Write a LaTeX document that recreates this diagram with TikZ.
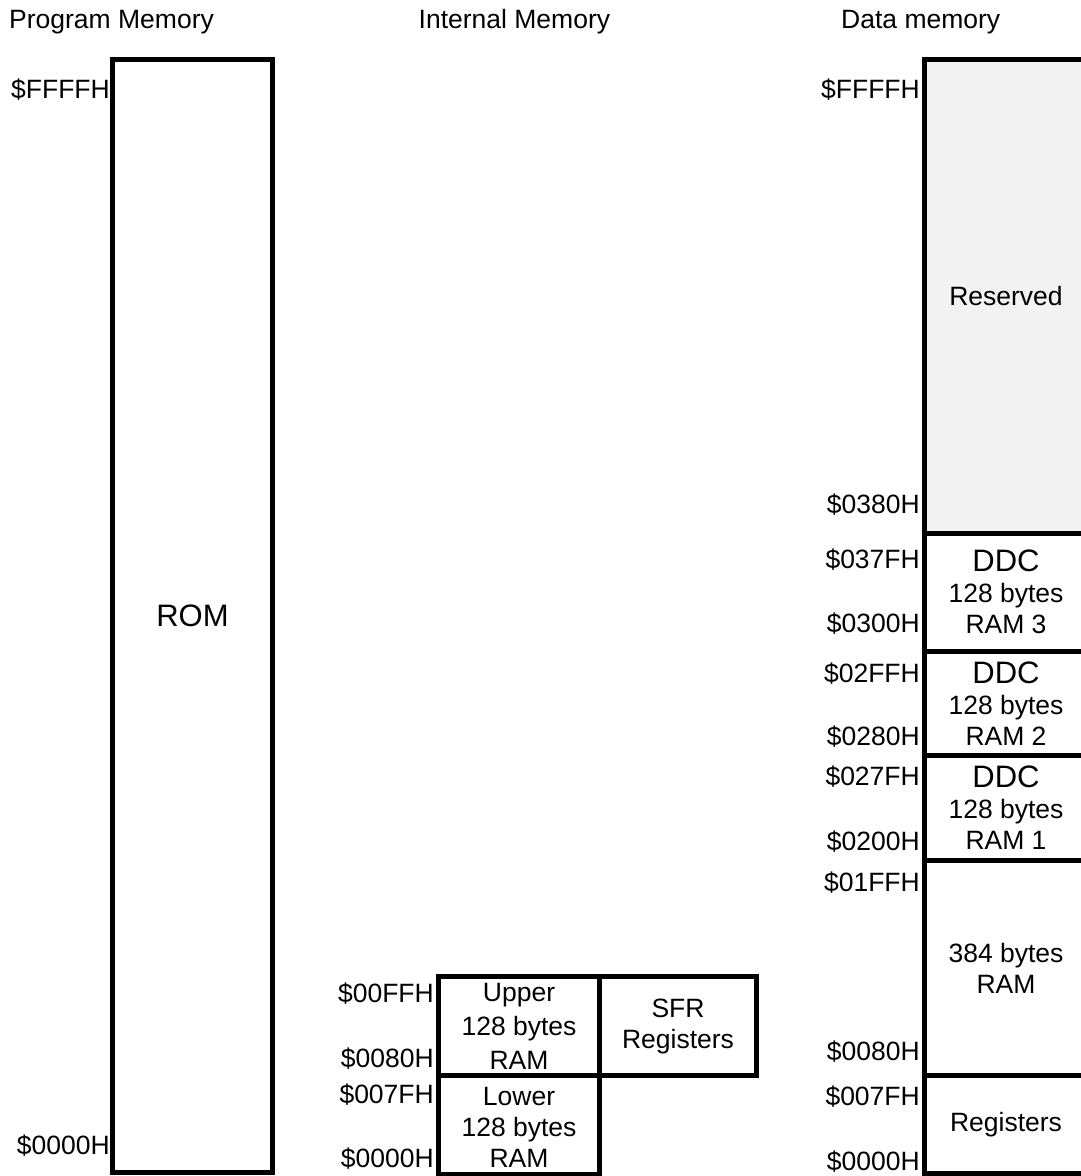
\documentclass[tikz,border=0pt]{standalone}
\usepackage{fontspec}
\setmainfont{Liberation Sans}
\definecolor{resv}{RGB}{242,242,242}
\begin{document}
\begin{tikzpicture}[x=1pt,y=-1pt,
  mem/.style={draw,line width=5pt,inner sep=0pt,align=center,font=\fontsize{26.5}{31}\selectfont},
  txt/.style={inner sep=0pt,align=center,font=\fontsize{26.5}{31}\selectfont},
  addr/.style={anchor=base east,inner sep=0pt,font=\fontsize{26.5}{31}\selectfont},
  ttl/.style={anchor=base west,inner sep=0pt,font=\fontsize{26.5}{31}\selectfont}]
\useasboundingbox (0,0) rectangle (1080,1176);
% titles
\node[ttl] (t1) at (9,28) {Program Memory};
\node[ttl] (t2) at (418.5,28) {Internal Memory};
\node[ttl] (t3) at (841,28) {Data memory};
% program memory
\node[mem,minimum width=160pt,minimum height=1113pt,font=\fontsize{31}{36}\selectfont] (rom) at (192.5,616) {ROM};
\node[addr] (p1) at (110,98) {\$FFFFH};
\node[addr] (p2) at (110,1154) {\$0000H};
% internal memory
\node[mem,minimum width=161pt,minimum height=99pt] (upper) at (519,1026) {};
\node[txt,font=\fontsize{26.5}{34}\selectfont] (uppertxt) at (upper.center) {Upper\\128 bytes\\RAM};
\node[mem,minimum width=157pt,minimum height=99pt] (sfr) at (678,1026) {SFR\\Registers};
\node[mem,minimum width=161pt,minimum height=98.5pt] (lower) at (519,1124.75) {};
\node[txt,yshift=-3pt] (lowertxt) at (lower.center) {Lower\\128 bytes\\RAM};
\node[addr] (i1) at (434,1002) {\$00FFH};
\node[addr] (i2) at (434,1067) {\$0080H};
\node[addr] (i3) at (434,1103) {\$007FH};
\node[addr] (i4) at (434,1167) {\$0000H};
% data memory
\node[mem,fill=resv,minimum width=163pt,minimum height=474pt] (res) at (1006,296.5) {Reserved};
\node[mem,minimum width=163pt,minimum height=117.5pt] (ddc3) at (1006,592.25) {{\fontsize{31}{34}\selectfont DDC}\\128 bytes\\RAM 3};
\node[mem,minimum width=163pt,minimum height=104.5pt] (ddc2) at (1006,703.25) {{\fontsize{31}{34}\selectfont DDC}\\128 bytes\\RAM 2};
\node[mem,minimum width=163pt,minimum height=105pt] (ddc1) at (1006,808) {{\fontsize{31}{34}\selectfont DDC}\\128 bytes\\RAM 1};
\node[mem,minimum width=163pt,minimum height=215pt] (ram384) at (1006,968) {384 bytes\\RAM};
\node[mem,minimum width=163pt,minimum height=98pt] (regs) at (1006,1124.5) {Registers};
\node[addr] (d1) at (920,98) {\$FFFFH};
\node[addr] (d2) at (920,513) {\$0380H};
\node[addr] (d3) at (920,568) {\$037FH};
\node[addr] (d4) at (920,632) {\$0300H};
\node[addr] (d5) at (920,682) {\$02FFH};
\node[addr] (d6) at (920,745) {\$0280H};
\node[addr] (d7) at (920,785) {\$027FH};
\node[addr] (d8) at (920,850) {\$0200H};
\node[addr] (d9) at (920,891) {\$01FFH};
\node[addr] (d10) at (920,1060) {\$0080H};
\node[addr] (d11) at (920,1105) {\$007FH};
\node[addr] (d12) at (920,1170) {\$0000H};
\end{tikzpicture}
\end{document}
